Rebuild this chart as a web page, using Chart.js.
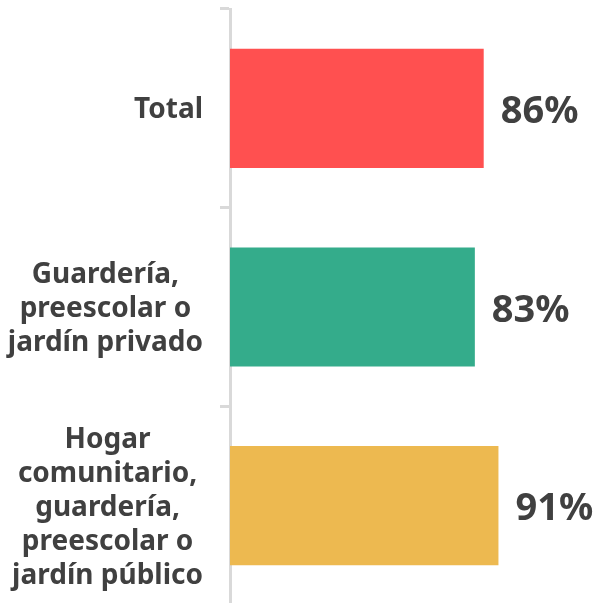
<!DOCTYPE html>
<html lang="es">
<head>
    <meta charset="UTF-8">
    <title>Guardería</title>
    <style>
        html, body {
            margin: 0;
            padding: 0;
            background: #ffffff;
            overflow: hidden;
        }
        .chart-container {
            width: 597px;
            height: 606px;
        }
    </style>
    <script src="https://cdn.jsdelivr.net/npm/chart.js"></script>
</head>
<body>
    <div class="chart-container">
        <canvas id="barChart"></canvas>
    </div>

    <script>
        // data
        const categories = [
            ['Total'],
            ['Guardería,', 'preescolar o', 'jardín privado'],
            ['Hogar', 'comunitario,', 'guardería,', 'preescolar o', 'jardín público']
        ];
        const values = [86, 83, 91];

        const barColors = ['#FF5050', '#34AC8B', '#EDB950'];
        const textColor = '#404040';
        const labelFont = 'bold 28px "Noto Sans"';
        const valueFont = 'bold 38px "Noto Sans"';

        // category labels: block right aligned, lines centred inside the block
        const categoryLabels = {
            id: 'categoryLabels',
            afterDraw(chart) {
                const ctx = chart.ctx;
                const yScale = chart.scales.y;
                const right = yScale.right - 27;
                const lineHeight = 34;
                ctx.save();
                ctx.font = labelFont;
                ctx.fillStyle = textColor;
                ctx.textAlign = 'center';
                ctx.textBaseline = 'middle';
                categories.forEach((lines, i) => {
                    const widest = Math.max(...lines.map(l => ctx.measureText(l).width));
                    const cx = right - widest / 2;
                    const cy = yScale.getPixelForValue(i) + 2;
                    const top = cy - (lines.length - 1) * lineHeight / 2;
                    lines.forEach((line, j) => {
                        ctx.fillText(line, cx, top + j * lineHeight);
                    });
                });
                ctx.restore();
            }
        };

        // percentage labels at the end of each bar
        const valueLabels = {
            id: 'valueLabels',
            afterDatasetsDraw(chart) {
                const ctx = chart.ctx;
                const meta = chart.getDatasetMeta(0);
                ctx.save();
                ctx.font = valueFont;
                ctx.fillStyle = textColor;
                ctx.textAlign = 'left';
                ctx.textBaseline = 'middle';
                meta.data.forEach((bar, i) => {
                    ctx.fillText(values[i] + '%', bar.x + 17, bar.y + 4);
                });
                ctx.restore();
            }
        };

        const ctx = document.getElementById('barChart').getContext('2d');
        new Chart(ctx, {
            type: 'bar',
            data: {
                labels: categories,
                datasets: [{
                    data: values,
                    backgroundColor: barColors,
                    borderWidth: 0,
                    barPercentage: 0.6,
                    categoryPercentage: 1
                }]
            },
            options: {
                indexAxis: 'y',
                responsive: true,
                maintainAspectRatio: false,
                animation: false,
                layout: {
                    padding: { top: 9, bottom: 1, left: 0, right: 72 }
                },
                plugins: {
                    legend: { display: false },
                    tooltip: { enabled: false }
                },
                scales: {
                    x: {
                        display: false,
                        min: 0,
                        max: 100
                    },
                    y: {
                        afterFit(scale) {
                            scale.width = 230;
                        },
                        ticks: { display: false },
                        grid: {
                            drawOnChartArea: false,
                            drawTicks: true,
                            tickLength: 10,
                            color: '#D9D9D9',
                            lineWidth: 3
                        },
                        border: {
                            color: '#D9D9D9',
                            width: 3
                        }
                    }
                }
            },
            plugins: [categoryLabels, valueLabels]
        });
    </script>
</body>
</html>
